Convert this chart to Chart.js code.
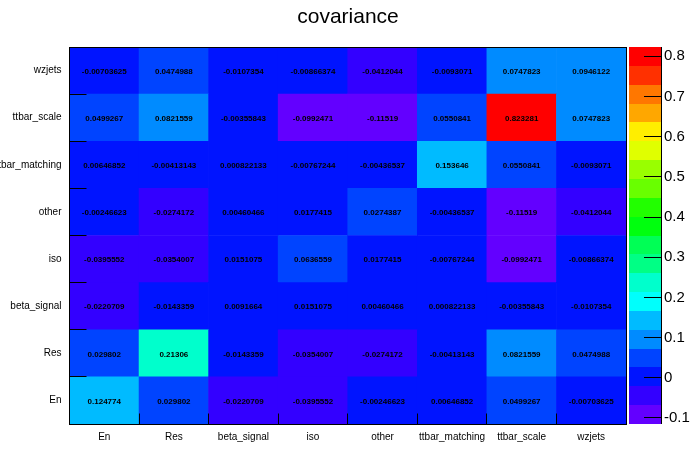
<!DOCTYPE html>
<html>
<head>
<meta charset="utf-8">
<script src="https://cdn.jsdelivr.net/npm/chart.js@4.4.1/dist/chart.umd.min.js"></script>
<style>html,body{margin:0;padding:0;background:#fff;overflow:hidden}</style>
</head>
<body>
<canvas id="c" width="696" height="472"></canvas>
<script>
// ---- data ----
const titleText = 'covariance';
const categories = ['En','Res','beta_signal','iso','other','ttbar_matching','ttbar_scale','wzjets'];
// rows listed bottom -> top, columns left -> right (same order as categories)
const rowEn            = [0.124774, 0.029802, -0.0220709, -0.0395552, -0.00246623, 0.00646852, 0.0499267, -0.00703625];
const rowRes           = [0.029802, 0.21306, -0.0143359, -0.0354007, -0.0274172, -0.00413143, 0.0821559, 0.0474988];
const rowBetaSignal    = [-0.0220709, -0.0143359, 0.0091664, 0.0151075, 0.00460466, 0.000822133, -0.00355843, -0.0107354];
const rowIso           = [-0.0395552, -0.0354007, 0.0151075, 0.0636559, 0.0177415, -0.00767244, -0.0992471, -0.00866374];
const rowOther         = [-0.00246623, -0.0274172, 0.00460466, 0.0177415, 0.0274387, -0.00436537, -0.11519, -0.0412044];
const rowTtbarMatching = [0.00646852, -0.00413143, 0.000822133, -0.00767244, -0.00436537, 0.153646, 0.0550841, -0.0093071];
const rowTtbarScale    = [0.0499267, 0.0821559, -0.00355843, -0.0992471, -0.11519, 0.0550841, 0.823281, 0.0747823];
const rowWzjets        = [-0.00703625, 0.0474988, -0.0107354, -0.00866374, -0.0412044, -0.0093071, 0.0747823, 0.0946122];
const rows = [rowEn, rowRes, rowBetaSignal, rowIso, rowOther, rowTtbarMatching, rowTtbarScale, rowWzjets];
const paletteTicks = [-0.1, 0, 0.1, 0.2, 0.3, 0.4, 0.5, 0.6, 0.7, 0.8];
const paletteTickLabels = ['-0.1', '0', '0.1', '0.2', '0.3', '0.4', '0.5', '0.6', '0.7', '0.8'];

// ---- style ----
const FONT = '"Liberation Sans", Arial, Helvetica, sans-serif';
const bandHues = [263.2, 252, 235.2, 224, 207.2, 196, 179.2, 168, 151.2, 140, 123.2, 112, 95.2, 84, 67.2, 56, 39.2, 28, 11.2, 0];
const nBands = bandHues.length;
const allVals = rows.flat();
const zMin = Math.min(...allVals);
const zMax = Math.max(...allVals);
function bandColor(i) { return 'hsl(' + bandHues[i] + ',100%,50%)'; }
function colorFor(v) {
  let i = Math.floor(0.01 + (v - zMin) * nBands / (zMax - zMin));
  i = Math.max(0, Math.min(nBands - 1, i));
  return bandColor(i);
}
const crisp = v => Math.floor(v) + 0.5;

const datasets = rows.map((vals, r) => ({
  label: categories[r],
  data: vals.map((v, j) => ({ x: categories[j], y: [r, r + 1], v: v })),
  backgroundColor: vals.map(colorFor),
  borderWidth: 0,
  barPercentage: 1,
  categoryPercentage: 1,
  grouped: false,
  xAxisID: 'x',
  yAxisID: 'yv'
}));

const heatPlugin = {
  id: 'heat',
  afterDatasetsDraw(chart) {
    const ctx = chart.ctx, a = chart.chartArea;
    const xs = chart.scales.x, yv = chart.scales.yv, z = chart.scales.z;
    ctx.save();
    // cell texts
    ctx.fillStyle = '#000';
    ctx.font = 'bold 8px ' + FONT;
    ctx.textAlign = 'center';
    ctx.textBaseline = 'middle';
    chart.data.datasets.forEach((ds, di) => {
      chart.getDatasetMeta(di).data.forEach((el, j) => {
        ctx.fillText(String(ds.data[j].v), el.x, (el.y + el.base) / 2 + 1);
      });
    });
    // frame
    ctx.strokeStyle = '#000';
    ctx.lineWidth = 1;
    const L = crisp(a.left), R = crisp(a.right), T = crisp(a.top), B = crisp(a.bottom);
    ctx.strokeRect(L, T, R - L, B - T);
    // axis ticks
    ctx.beginPath();
    for (let k = 1; k < categories.length; k++) {
      const px = crisp((xs.getPixelForTick(k - 1) + xs.getPixelForTick(k)) / 2);
      ctx.moveTo(px, B); ctx.lineTo(px, B - 11);
      const py = crisp(yv.getPixelForValue(k));
      ctx.moveTo(L, py); ctx.lineTo(L + 17, py);
    }
    ctx.stroke();
    // palette
    const pl = Math.round(a.right) + 3, pr = Math.round(a.right) + 35;
    for (let i = 0; i < nBands; i++) {
      const y0 = Math.round(z.getPixelForValue(zMin + i * (zMax - zMin) / nBands));
      const y1 = Math.round(z.getPixelForValue(zMin + (i + 1) * (zMax - zMin) / nBands));
      ctx.fillStyle = bandColor(i);
      ctx.fillRect(pl, y1, pr - pl, y0 - y1);
    }
    ctx.strokeStyle = '#000';
    ctx.beginPath();
    ctx.moveTo(pr + 0.5, a.top); ctx.lineTo(pr + 0.5, a.bottom);
    paletteTicks.forEach(v => {
      const py = crisp(z.getPixelForValue(v));
      ctx.moveTo(pr - 17, py); ctx.lineTo(pr + 1, py);
    });
    ctx.stroke();
    ctx.restore();
  }
};

new Chart(document.getElementById('c'), {
  type: 'bar',
  data: { labels: categories, datasets: datasets },
  options: {
    responsive: false,
    animation: false,
    events: [],
    layout: { padding: 0 },
    plugins: {
      legend: { display: false },
      tooltip: { enabled: false },
      title: {
        display: true,
        text: titleText,
        color: '#000',
        font: { family: FONT, size: 21, weight: 'normal' },
        padding: { top: 5, bottom: 16.8 }
      }
    },
    scales: {
      x: {
        type: 'category',
        position: 'bottom',
        offset: true,
        grid: { display: false, drawTicks: false },
        border: { display: false },
        ticks: { color: '#000', font: { family: FONT, size: 10 }, padding: 7, autoSkip: false, maxRotation: 0, minRotation: 0 },
        afterFit: s => { s.height = 48; }
      },
      yv: {
        type: 'linear',
        axis: 'y',
        position: 'left',
        min: 0,
        max: categories.length,
        display: false
      },
      yl: {
        type: 'category',
        axis: 'y',
        position: 'left',
        labels: categories.slice().reverse(),
        offset: true,
        grid: { display: false, drawTicks: false },
        border: { display: false },
        ticks: { color: '#000', font: { family: FONT, size: 10 }, padding: 8, autoSkip: false },
        afterFit: s => { s.width = 69.5; }
      },
      z: {
        type: 'linear',
        axis: 'y',
        position: 'right',
        min: zMin,
        max: zMax,
        bounds: 'data',
        grid: { display: false, drawTicks: false },
        border: { display: false },
        afterBuildTicks: s => { s.ticks = paletteTicks.map(v => ({ value: v })); },
        ticks: {
          color: '#000',
          font: { family: FONT, size: 15 },
          padding: 38,
          autoSkip: false,
          callback: (v, i) => paletteTickLabels[i]
        },
        afterFit: s => { s.width = 70; }
      }
    }
  },
  plugins: [heatPlugin]
});
</script>
</body>
</html>
